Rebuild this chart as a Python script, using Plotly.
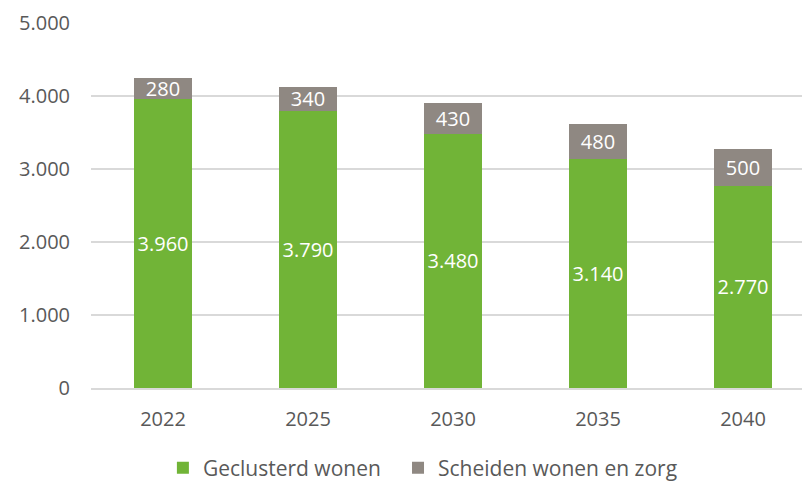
import plotly.graph_objects as go

years = ["2022", "2025", "2030", "2035", "2040"]
geclusterd = [3960, 3790, 3480, 3140, 2770]
scheiden = [280, 340, 430, 480, 500]

GREEN = "#71B437"
GREY = "#8F8882"
TXT = "#595959"
FONT = "Open Sans"

fig = go.Figure()
fig.add_trace(go.Bar(
    x=years, y=geclusterd, name="Geclusterd wonen",
    marker=dict(color=GREEN, line=dict(width=0)),
    width=0.4, legend="legend",
    text=[f"{v:,}".replace(",", ".") for v in geclusterd],
    textposition="inside", insidetextanchor="middle", constraintext="none",
    textfont=dict(color="white", size=20, family=FONT),
    hoverinfo="skip",
))
fig.add_trace(go.Bar(
    x=years, y=scheiden, name="Scheiden wonen en zorg",
    marker=dict(color=GREY, line=dict(width=0)),
    width=0.4, legend="legend2",
    text=[str(v) for v in scheiden],
    textposition="inside", insidetextanchor="middle", constraintext="none",
    textfont=dict(color="white", size=20, family=FONT),
    hoverinfo="skip",
))

leg = dict(orientation="h", xanchor="left", yref="container", y=0.0316, yanchor="middle",
           font=dict(size=21, color=TXT), itemwidth=30, bgcolor="rgba(0,0,0,0)")

# page body has an 8px default margin, so the figure is drawn 8px smaller
fig.update_layout(
    barmode="stack",
    width=802, height=475,
    margin=dict(l=83, r=0, t=15, b=95),
    paper_bgcolor="white", plot_bgcolor="white",
    font=dict(family=FONT, color=TXT, size=20),
    separators=",.",
    uniformtext=dict(minsize=20, mode="show"),
    showlegend=True,
    legend=dict(leg, x=0.1),
    legend2=dict(leg, x=0.427),
    xaxis=dict(type="category", range=[-0.4966, 4.462], showgrid=False, automargin=False,
               showline=True, linecolor="#D9D9D9", linewidth=1.5, ticks="",
               tickfont=dict(size=20, color=TXT), ticklabelstandoff=12),
    yaxis=dict(range=[0, 5000], dtick=1000, tickformat=",d", showgrid=True, automargin=False,
               gridcolor="#D9D9D9", gridwidth=1.5, zeroline=False, showline=False,
               ticks="", tickfont=dict(size=20, color=TXT), ticklabelstandoff=20),
)

fig.write_html("out.html")
